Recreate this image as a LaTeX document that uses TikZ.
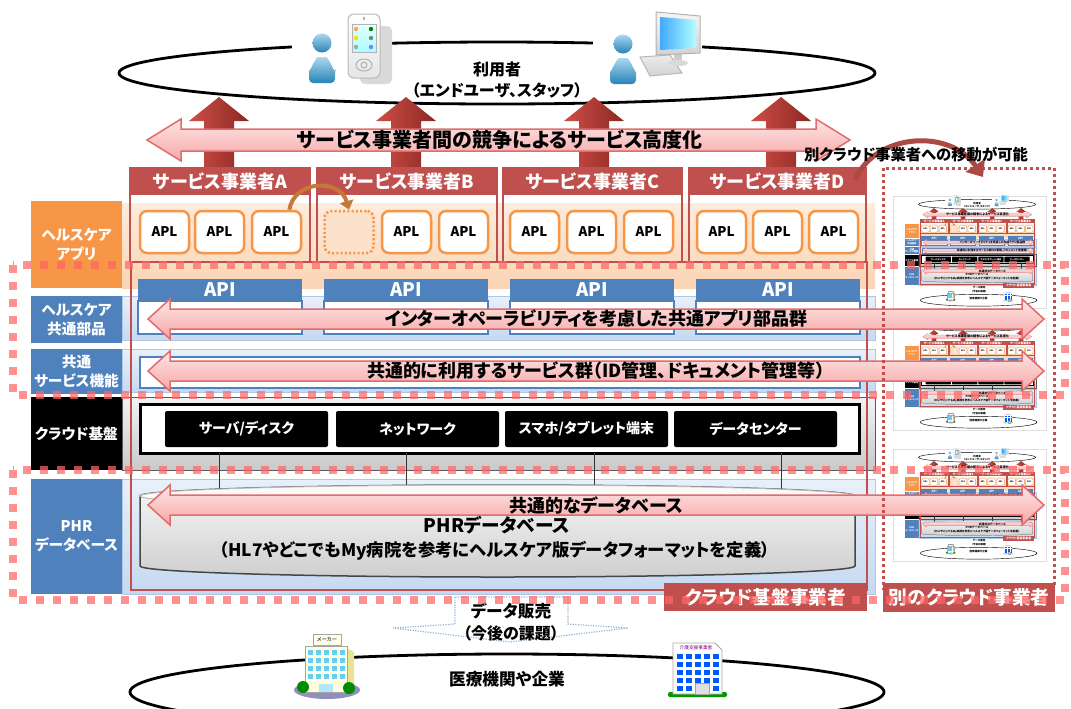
\documentclass[tikz,border=0pt]{standalone}
\usepackage{fontspec}
\setmainfont{Noto Sans CJK JP}[RawFeature=+palt]
\usetikzlibrary{arrows.meta}

\definecolor{provred}{HTML}{C0504D}
\definecolor{aplorange}{HTML}{F79646}
\definecolor{bandorange}{HTML}{FBD4B4}
\definecolor{layerblue}{HTML}{4F81BD}
\definecolor{bandblue}{HTML}{C6D9F1}
\definecolor{pinklight}{HTML}{FDE6E6}
\definecolor{pinkdeep}{HTML}{F7A6A6}
\definecolor{pinkline}{HTML}{E26B6B}
\definecolor{dashred}{HTML}{FF6666}
\definecolor{uparrowred}{HTML}{C83A32}
\definecolor{userblue}{HTML}{2E9BD6}
\definecolor{calloutblue}{HTML}{95B3D7}

% line width of one layout pixel (made smaller for the small copies)
\newcommand\px{0.75pt}
\newcommand\boldat[1]{\bfseries\fontsize{#1}{#1}\selectfont}

\tikzset{
  ring/.style={draw=black, line width=2.8*\px},
  uparrow/.style={left color=uparrowred!90, right color=uparrowred!70!black},
  pinkarrow/.style={top color=pinklight, bottom color=pinkdeep, draw=pinkline, line width=1.5*\px},
  arrowtext/.style={font=\boldat{13.5}, inner sep=0pt},
  usertext/.style={font=\boldat{12}, inner sep=0pt},
  provider/.style={draw=provred, line width=2*\px},
  provhead/.style={text=white, font=\boldat{13.5}},
  layerlabel/.style={text=white, font=\bfseries\fontsize{11}{14}\selectfont, align=center},
  orangeband/.style={top color=bandorange!45, bottom color=bandorange},
  aplbox/.style={draw=aplorange, line width=2.5*\px, fill=white, rounded corners=7*\px,
    minimum width=36.75pt, minimum height=31.5pt, inner sep=0pt, font=\boldat{10}},
  aplslot/.style={aplbox, fill=bandorange!70, dash pattern=on 1.6pt off 1.6pt},
  aplmove/.style={draw=aplorange!80!black, line width=4*\px, -{Triangle[length=0pt 2.2, width=0pt 3.4]}},
  blueband/.style={top color=bandblue!40, bottom color=bandblue, draw=layerblue!45, line width=1*\px},
  apibody/.style={fill=white, draw=layerblue, line width=2*\px},
  apihead/.style={text=white, font=\boldat{14}},
  grayband/.style={top color=gray!10, bottom color=gray!42, draw=gray!70!black, line width=1*\px},
  infrabox/.style={fill=black, text=white, rounded corners=2*\px, minimum width=122.25pt,
    minimum height=27pt, font=\boldat{10.5}},
  tapline/.style={draw=gray!40!black, line width=1*\px},
  dbbody/.style={top color=gray!6, bottom color=gray!38, draw=gray!55!black, line width=1.5*\px},
  dblid/.style={fill=gray!4, draw=gray!55, line width=1*\px},
  dbtext/.style={font=\boldat{14}, inner sep=0pt},
  tagtext/.style={text=white, font=\boldat{14}},
  callout/.style={fill=white, draw=calloutblue, densely dotted, line width=1.2*\px},
  calltext/.style={font=\boldat{12.5}, inner sep=0pt},
  dashbox/.style={draw=dashred, draw opacity=0.72, line width=6pt, dash pattern=on 6pt off 6.75pt},
  otherframe/.style={draw=provred, line width=2.25pt, dash pattern=on 2.25pt off 2.25pt},
  movearrow/.style={draw=provred!90!black, line width=5*\px, -{Triangle[length=0pt 2.8, width=0pt 4.5]}},
  movetext/.style={font=\boldat{11.5}, inner sep=1pt},
  % icons
  person/.pic={
    \shade[top color=userblue!40, bottom color=userblue!85!black] (0,-15) circle[radius=9.5];
    \shade[top color=userblue!40, bottom color=userblue!85!black, rounded corners=4*\px]
      (-13,25) -- (-13,9) to[out=-90, in=180] (0,-1) to[out=0, in=-90] (13,9) -- (13,25) -- cycle;
  },
  handset/.pic={
    \fill[gray!30, rounded corners=5*\px] (-8,-22) rectangle (24,36);
    \shade[top color=white, bottom color=gray!20, draw=gray!55, line width=1*\px, rounded corners=6*\px]
      (-20,-34) rectangle (12,30);
    \shade[top color=cyan!10, bottom color=cyan!35, draw=gray!60, line width=0.8*\px] (-16,-24) rectangle (8,4);
    \fill[orange!70] (-12,-19) circle[radius=2.2];
    \fill[green!50!black] (3,-19) circle[radius=2.2];
    \fill[yellow!80!orange] (-12,-10) circle[radius=2.2];
    \fill[gray] (3,-10) circle[radius=2.2];
    \fill[gray!70] (-12,-1) circle[radius=2.2];
    \fill[blue!50] (3,-1) circle[radius=2.2];
    \draw[gray!60, line width=1*\px] (-4,17) ellipse[x radius=8, y radius=6];
    \draw[gray!60, line width=1*\px] (-4,17) circle[radius=3];
    \fill[gray!60] (-5,-31) rectangle (-3,-28);
  },
  desktop/.pic={
    \shade[top color=gray!15, bottom color=gray!35, draw=gray!55, line width=1*\px]
      (-32,14) -- (-2,12) -- (10,30) -- (-22,33) -- cycle;
    \fill[gray!40] (2,11) rectangle (10,19);
    \fill[gray!30] (6,20) ellipse[x radius=10, y radius=3];
    \shade[top color=gray!8, bottom color=gray!35, draw=gray!60, line width=1*\px]
      (-16,-31) -- (28,-27) -- (28,10) -- (-16,12) -- cycle;
    \shade[left color=cyan!55!blue!75, right color=cyan!30] (-12,-26) -- (24,-23) -- (24,5) -- (-12,7) -- cycle;
  },
  maker/.pic={
    \fill[blue!25!gray!70] (0,24) ellipse[x radius=33, y radius=9];
    \fill[yellow!40!olive!35] (20,-18) -- (27,-14) -- (27,24) -- (20,26) -- cycle;
    \fill[yellow!12, draw=gray!70, line width=0.8*\px] (-22,-20) rectangle (20,26);
    \foreach \wi in {0,...,4}
      \foreach \wj in {0,...,3}
        \fill[cyan!60] (-19+\wi*8,-16+\wj*8) rectangle ++(5,5);
    \fill[cyan!30] (-8,18) rectangle (6,26);
    \fill[green!55!black] (-24,21) circle[radius=6];
    \fill[green!55!black] (22,22) circle[radius=6];
    \draw[fill=yellow!8, draw=gray!70, line width=0.8*\px] (-14,-32) rectangle (14,-21)
      node[midway, font=\fontsize{4}{4}\selectfont, inner sep=0pt] (makersign) {メーカー};
  },
  carehome/.pic={
    \fill[green!60!black, rounded corners=2*\px] (-29,23) rectangle (30,28);
    \fill[white, draw=gray!70, line width=0.8*\px] (-24,-26) -- (18,-26) -- (25,-19) -- (25,25) -- (-24,25) -- cycle;
    \node[font=\fontsize{3.5}{3.5}\selectfont, text=violet, inner sep=0pt] (caresign) at (-1,-21) {介護支援事業者};
    \foreach \wi in {0,...,4}
      \foreach \wj in {0,...,4}
        \fill[blue!65!cyan] (-20+\wi*9,-15+\wj*8) rectangle ++(6,5);
    \fill[gray!25, draw=gray!70, line width=0.8*\px] (-2,14) rectangle (12,25);
  }
}

% the whole platform, drawn once full size and again as small copies
\newcommand\platform[1]{%
  % users
  \draw[ring] (497,73) ellipse [x radius=378, y radius=31];
  \fill[white] (292,33) rectangle (392,54);
  \fill[white] (593,33) rectangle (702,54);
  \pic at (322,58) {person};
  \pic at (368,48) {handset};
  \pic at (623,59) {person};
  \pic at (672,43) {desktop};
  \node[usertext] (users) at (497,69) {利用者};
  \node[usertext] (userkind) at (497,90) {（エンドユーザ、スタッフ）};
  % services reach the users
  \foreach \ux in {219,406,594,781}
    \shade[uparrow] (\ux-15,172) -- (\ux-15,121) -- (\ux-30,121) -- (\ux,97)
      -- (\ux+30,121) -- (\ux+15,121) -- (\ux+15,172) -- cycle;
  \draw[pinkarrow] (147,140) -- (181,119) -- (181,129) -- (816,129) -- (816,119)
    -- (850,140) -- (816,161) -- (816,151) -- (181,151) -- (181,161) -- cycle;
  \node[arrowtext, font=\boldat{15}] (compete) at (500,140) {サービス事業者間の競争によるサービス高度化};
  % healthcare apps
  \fill[aplorange] (31,201) rectangle (122,288) node[midway, layerlabel] (lblapp) {ヘルスケア\\アプリ};
  \shade[orangeband] (122,203) rectangle (875,288);
  \foreach \xa/\xb/\id in {130/310/A,317/497/B,503/682/C,689/866/D} {
    \draw[provider] (\xa,168) rectangle (\xb,262);
    \fill[provred] (\xa,168) rectangle (\xb,195) node[midway, provhead] (prov\id) {サービス事業者\id};
  }
  \foreach \ax [count=\i] in {164.5,219.5,276.5,406.5,463.5,534.5,591.5,648.5,721.5,777.5,833.5}
    \node[aplbox] (apl\i) at (\ax,232) {APL};
  \node[aplslot] (slot) at (349,232) {};
  \draw[aplmove] (apl3.60) .. controls (294,180) and (340,178) .. (slot.north);
  % common parts and common services
  \fill[layerblue] (31,296) rectangle (122,343) node[midway, layerlabel] (lblparts) {ヘルスケア\\共通部品};
  \fill[layerblue] (31,349) rectangle (122,394) node[midway, layerlabel] (lblsvc) {共通\\サービス機能};
  \draw[blueband] (122,296) rectangle (875,340);
  \draw[blueband] (122,349) rectangle (875,392);
  \foreach \bx [count=\i] in {138,324,510,696} {
    \draw[apibody] (\bx,301) rectangle ++(164,33);
    \fill[layerblue] (\bx,279) rectangle ++(164,22) node[midway, apihead] (api\i) {API};
  }
  \draw[apibody] (140,357) rectangle (860,388);
  % cloud base
  \fill[black] (31,397) rectangle (122,470) node[midway, layerlabel] (lblcloud) {クラウド基盤};
  \draw[grayband] (122,397) rectangle (875,470);
  \draw[fill=white, line width=3*\px] (140,404) rectangle (859,453);
  \foreach \cx/\txt [count=\i] in {246.5/{サーバ/ディスク},417.5/ネットワーク,586.5/{スマホ/タブレット端末},755.5/データセンター}
    \node[infrabox] (infra\i) at (\cx,429) {\txt};
  % PHR database
  \fill[layerblue] (31,479) rectangle (122,594) node[midway, layerlabel] (lblphr) {PHR\\データベース};
  \draw[blueband] (122,479) rectangle (875,594);
  \foreach \tx [count=\i] in {219,406,594,781} {
    \coordinate (tap\i) at (\tx,453);
    \draw[tapline] (tap\i) -- ++(0,42);
  }
  \draw[dbbody] (140,496) -- (140,566) arc[start angle=180, end angle=0, x radius=357.5, y radius=11]
    -- (855,496) arc[start angle=0, end angle=-180, x radius=357.5, y radius=11] -- cycle;
  \draw[dblid] (497.5,496) ellipse [x radius=357.5, y radius=11];
  \node[dbtext] (phrdb) at (497,525) {PHRデータベース};
  \node[dbtext, font=\boldat{13}] (phrformat) at (495,551) {（HL7やどこでもMy病院を参考にヘルスケア版データフォーマットを定義）};
  % cloud operator
  \draw[provider, line width=2.5*\px] (131,262) rectangle (867,590);
  \fill[provred] (664,583) rectangle (867,611) node[midway, tagtext] (cloudop) {クラウド基盤事業者};
  % shared across the layers
  \foreach \ly/\txt/\id in {319/{インターオペーラビリティを考慮した共通アプリ部品群}/parts,
      371/{共通的に利用するサービス群（ID管理、ドキュメント管理等）}/services,
      505/{共通的なデータベース}/data} {
    \draw[pinkarrow] (148,\ly) -- (170,\ly-20) -- (170,\ly-10) -- (#1-22,\ly-10) -- (#1-22,\ly-20)
      -- (#1,\ly) -- (#1-22,\ly+20) -- (#1-22,\ly+10) -- (170,\ly+10) -- (170,\ly+20) -- cycle;
    \node[arrowtext] (share\id) at (596,\ly) {\txt};
  }
  % data sales and partners
  \draw[callout] (455,597) -- (455,624) -- (393,628) -- (510,642) -- (628,628) -- (568,624) -- (568,597) -- cycle;
  \node[calltext] (sale) at (511,611) {データ販売};
  \node[calltext, font=\boldat{12}] (salenote) at (511,633) {（今後の課題）};
  \draw[ring] (507,692) ellipse [x radius=377, y radius=38];
  \node[usertext, font=\boldat{12.5}] (partners) at (507,679) {医療機関や企業};
  \pic at (327,666) {maker};
  \pic at (697,669) {carehome};
}

\begin{document}
\begin{tikzpicture}[x=0.75pt, y=-0.75pt]
  \useasboundingbox (0,0) rectangle (1071,708);
  % small copies inside the other cloud
  \foreach \oy in {193,315,446} {
    \draw[gray!25, fill=white, line width=0.5pt] (893,\oy+3) rectangle (1046,\oy+115);
    \begin{scope}[shift={(900,\oy)}, scale=0.155, transform shape]
      \renewcommand\px{0.116pt}
      \platform{860}
    \end{scope}
  }
  % full size platform
  \platform{1044}
  % the other cloud operator
  \draw[otherframe] (883,168) rectangle (1054,588);
  \fill[provred] (883,583) rectangle (1055,612) node[midway, tagtext] (othercloud) {別のクラウド事業者};
  % moving to another cloud
  \coordinate (leave) at (855,180);
  \coordinate (arrive) at (983,177);
  \draw[movearrow] (leave) .. controls (875,133) and (950,128) .. (arrive);
  \node[movetext] (movenote) at (916,155) {別クラウド事業者への移動が可能};
  % layers shared between clouds
  \draw[dashbox] (13,265) rectangle (1065,395);
  \draw[dashbox] (13,470) rectangle (1065,600);
\end{tikzpicture}
\end{document}
